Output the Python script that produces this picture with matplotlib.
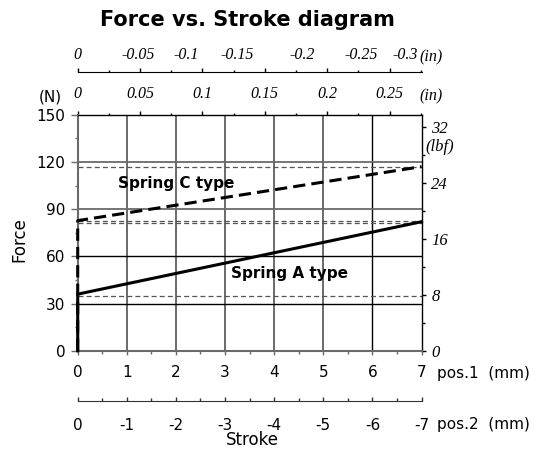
import matplotlib
matplotlib.use("Agg")
import matplotlib.pyplot as plt
from matplotlib.ticker import FixedLocator, MultipleLocator, NullFormatter

# ---------------- data ----------------
stroke_mm = [0, 0, 7]
spring_a_N = [0, 36, 82]
spring_c_N = [0, 82.7, 117]
ref_lines_N = [117, 82.7, 81.0, 34.8]
pos1_ticks = [0, 1, 2, 3, 4, 5, 6, 7]
pos1_labels = ["0", "1", "2", "3", "4", "5", "6", "7"]
pos2_labels = ["0", "-1", "-2", "-3", "-4", "-5", "-6", "-7"]
force_ticks = [0, 30, 60, 90, 120, 150]
lbf_ticks = [0, 8, 16, 24, 32]
inch_ticks = [0, 0.05, 0.1, 0.15, 0.2, 0.25]
inch_labels = ["0", "0.05", "0.1", "0.15", "0.2", "0.25"]
inch_neg_labels = ["0", "-0.05", "-0.1", "-0.15", "-0.2", "-0.25", "-0.3"]
inch_neg_label_pos_mm = [0, 1.22, 2.2, 3.25, 4.56, 5.78, 6.67]

N_PER_LBF = 4.44822
MM_PER_IN = 25.4

W, H = 534, 450
fig = plt.figure(figsize=(W / 100, H / 100), dpi=100)

L, R, T, B = 77.7, 421.5, 114.7, 350.8
def fx(px):
    return px / W
def fy(py):
    return 1 - py / H

GRAY = "#6a6a6a"
sans = "DejaVu Sans"
serif = "Liberation Serif"
TICK_FS = 11
SER_FS = 11.5
SER_FS_R = 12

ax = fig.add_axes([fx(L), fy(B), fx(R - L), (B - T) / H])
ax.set_xlim(0, 7)
ax.set_ylim(0, 150)

# grid
for x in pos1_ticks[1:-1]:
    ax.axvline(x, color=("black" if x == 6 else GRAY), lw=(1.0 if x == 6 else 1.4), zorder=1)
for y in force_ticks[1:-1]:
    ax.axhline(y, color=("black" if y <= 60 else GRAY), lw=(1.0 if y <= 60 else 1.3), zorder=1)
for y in ref_lines_N:
    ax.axhline(y, color="#555555", lw=0.9, dashes=(4, 2.5), zorder=2)

# springs
ax.plot(stroke_mm, spring_a_N, color="black", lw=2.2, zorder=5, clip_on=False)
ax.plot(stroke_mm, spring_c_N, color="black", lw=2.2, dashes=(4, 2), zorder=6, clip_on=False)

ax.text(0.83, 106.6, "Spring C type", fontsize=11, fontweight="bold", family=sans,
        ha="left", va="center", zorder=7)
ax.text(3.12, 48.8, "Spring A type", fontsize=11, fontweight="bold", family=sans,
        ha="left", va="center", zorder=7)

# spines
for s in ["left", "bottom"]:
    ax.spines[s].set_color(GRAY)
    ax.spines[s].set_linewidth(1.5)
for s in ["top", "right"]:
    ax.spines[s].set_color("black")
    ax.spines[s].set_linewidth(1.0)

# left axis
ax.yaxis.set_major_locator(FixedLocator(force_ticks))
ax.yaxis.set_minor_locator(MultipleLocator(15))
ax.set_yticklabels([str(v) for v in force_ticks], fontsize=TICK_FS, family=sans)
ax.tick_params(axis="y", which="major", direction="out", length=5, width=1, color=GRAY, pad=4)
ax.tick_params(axis="y", which="minor", direction="out", length=2, width=1, color=GRAY)

# bottom axis (pos.1)
ax.xaxis.set_major_locator(FixedLocator(pos1_ticks))
ax.xaxis.set_minor_locator(MultipleLocator(0.5))
ax.set_xticklabels(pos1_labels, fontsize=TICK_FS, family=sans)
ax.tick_params(axis="x", which="major", direction="out", length=3, width=1, color=GRAY, pad=7)
ax.tick_params(axis="x", which="minor", direction="out", length=2, width=1, color=GRAY)

# right axis (lbf)
axr = ax.secondary_yaxis("right", functions=(lambda n: n / N_PER_LBF, lambda l: l * N_PER_LBF))
axr.yaxis.set_major_locator(FixedLocator(lbf_ticks))
axr.yaxis.set_minor_locator(MultipleLocator(4))
axr.set_yticklabels([str(v) for v in lbf_ticks], fontsize=SER_FS_R, family=serif, style="italic")
axr.tick_params(which="major", direction="out", length=3, width=1, color="black", pad=4)
axr.tick_params(which="minor", direction="out", length=2, width=1, color="black")
axr.spines["right"].set_visible(False)
ax.annotate("(lbf)", xy=(1, 129.7), xycoords=("axes fraction", "data"), xytext=(3, 0),
            textcoords="offset points", ha="left", va="center", fontsize=SER_FS_R,
            family=serif, style="italic")

# top axis (inch, positive)
axt = ax.secondary_xaxis("top", functions=(lambda m: m / MM_PER_IN, lambda i: i * MM_PER_IN))
axt.xaxis.set_major_locator(FixedLocator(inch_ticks))
axt.xaxis.set_minor_locator(MultipleLocator(0.025))
axt.set_xticklabels(inch_labels, fontsize=SER_FS, family=serif, style="italic")
axt.tick_params(which="major", direction="out", length=3, width=1, color="black", pad=6)
axt.tick_params(which="minor", direction="out", length=1.5, width=1, color="black")
axt.spines["top"].set_visible(False)
fig.text(fx(431), fy(96.7), "(in)", fontsize=SER_FS, family=serif, style="italic",
         ha="center", va="center")
fig.text(fx(50), fy(96.7), "(N)", fontsize=TICK_FS, family=sans, ha="center", va="center")

# top axis (inch, negative) - separate line
y1 = 72.3
axn = fig.add_axes([fx(L), fy(y1), fx(R - L), 0.0001])
axn.set_xlim(0, 7)
axn.set_ylim(0, 1)
for s in ["left", "right", "bottom"]:
    axn.spines[s].set_visible(False)
axn.spines["top"].set_color("black")
axn.yaxis.set_visible(False)
axn.xaxis.tick_top()
axn.xaxis.set_major_locator(FixedLocator([v * MM_PER_IN for v in inch_ticks]))
axn.xaxis.set_minor_locator(FixedLocator([(v + 0.025) * MM_PER_IN for v in inch_ticks]))
axn.xaxis.set_major_formatter(NullFormatter())
axn.tick_params(which="major", direction="out", length=3, width=1, color="black")
axn.tick_params(which="minor", direction="out", length=1.5, width=1, color="black")
for xm, lab in zip(inch_neg_label_pos_mm, inch_neg_labels):
    axn.annotate(lab, xy=(xm, 1), xycoords=("data", "axes fraction"), xytext=(0, 7),
                 textcoords="offset points", ha="center", va="bottom", fontsize=SER_FS,
                 family=serif, style="italic")
fig.text(fx(431), fy(57), "(in)", fontsize=SER_FS, family=serif, style="italic",
         ha="center", va="center")

# bottom axis (pos.2) - separate line
y2 = 401
axb = fig.add_axes([fx(L), fy(y2), fx(R - L), 0.0001])
axb.set_xlim(0, 7)
axb.set_ylim(0, 1)
for s in ["left", "right", "top"]:
    axb.spines[s].set_visible(False)
axb.spines["bottom"].set_color("#333333")
axb.yaxis.set_visible(False)
axb.xaxis.set_major_locator(FixedLocator(pos1_ticks))
axb.xaxis.set_minor_locator(MultipleLocator(0.5))
axb.set_xticklabels(pos2_labels, fontsize=TICK_FS, family=sans)
axb.tick_params(which="major", direction="in", length=3, width=1, color="#333333", pad=12)
axb.tick_params(which="minor", direction="in", length=2, width=1, color="#333333")

fig.text(fx(436.7), fy(373.3), "pos.1  (mm)", fontsize=TICK_FS, family=sans,
         ha="left", va="center")
fig.text(fx(436.7), fy(425), "pos.2  (mm)", fontsize=TICK_FS, family=sans,
         ha="left", va="center")
fig.text(fx(252), fy(440), "Stroke", fontsize=12, family=sans, ha="center", va="center")
fig.text(fx(19), fy(240), "Force", fontsize=12, family=sans, ha="center", va="center",
         rotation=90)
fig.text(fx(247), fy(20), "Force vs. Stroke diagram", fontsize=15, fontweight="bold",
         family=sans, ha="center", va="center")

fig.savefig("out.png", dpi=100)
